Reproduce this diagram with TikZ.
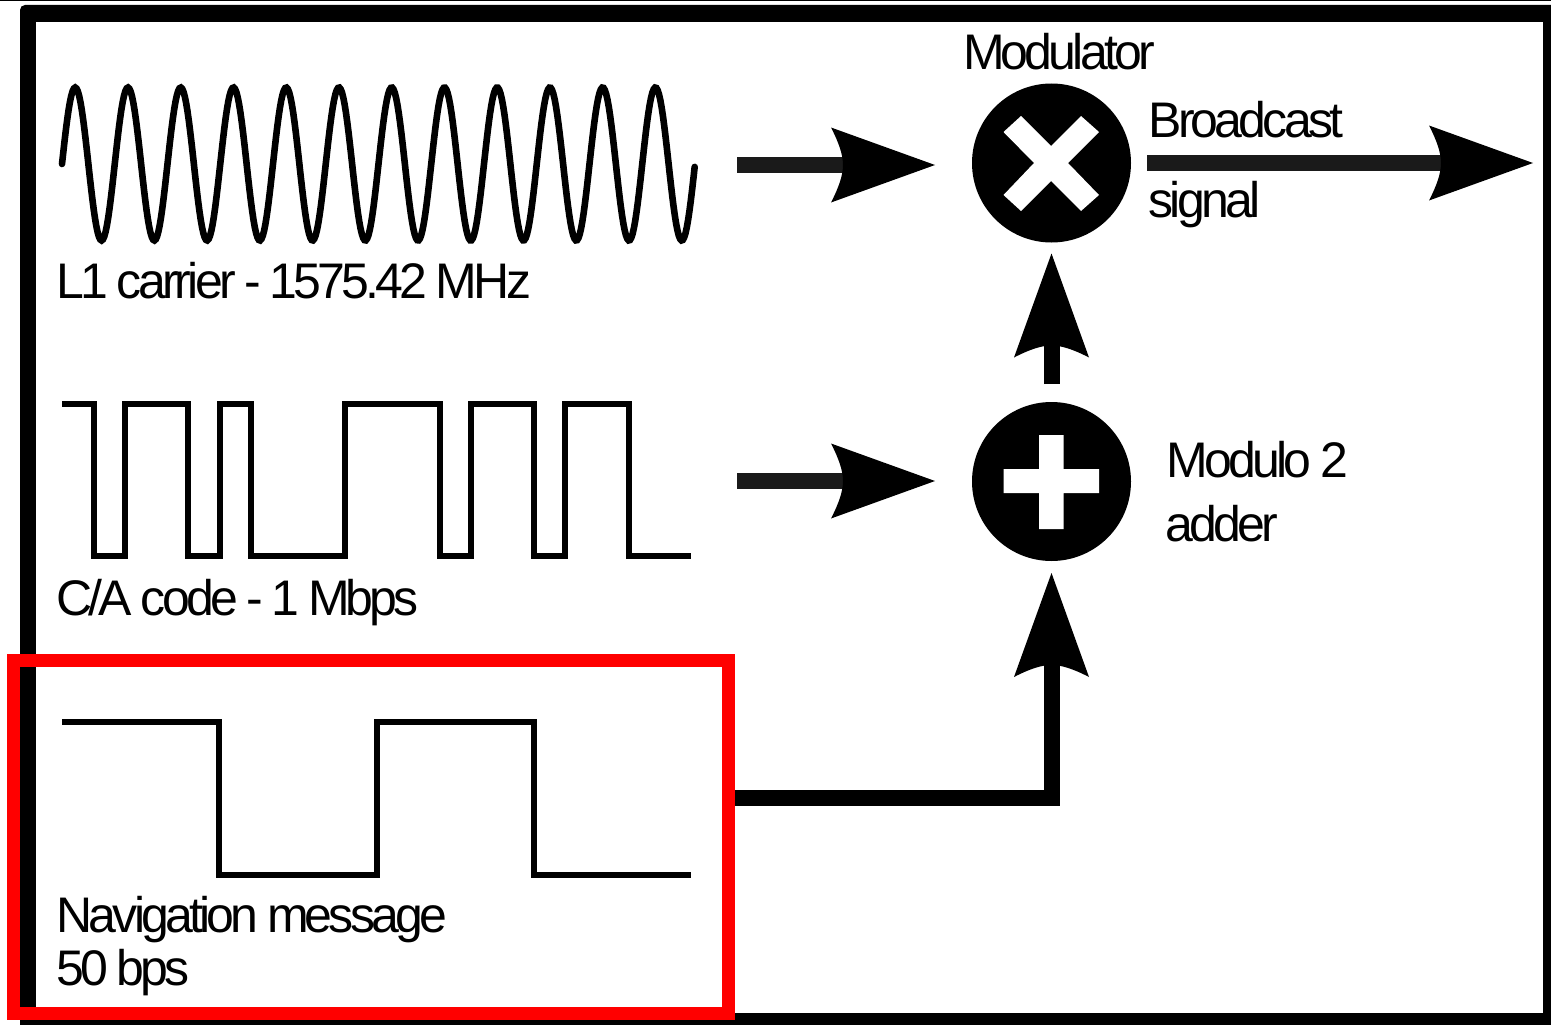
\documentclass[tikz,border=0pt]{standalone}
\usepackage{fontspec}
\setmainfont[LetterSpace=-7.6,WordSpace=0.85]{Liberation Sans}
\usetikzlibrary{arrows.meta,calc}
\pgfdeclarearrow{
  name=DartHead,
  setup code={
    \pgfarrowssettipend{104pt}
    \pgfarrowssetbackend{0pt}
    \pgfarrowssetlineend{16pt}
    \pgfarrowssetvisualbackend{12pt}
  },
  drawing code={
    \pgfsetfillcolor{black}
    \pgfpathmoveto{\pgfqpoint{104pt}{0pt}}
    \pgfpathlineto{\pgfqpoint{0pt}{37.5pt}}
    \pgfpathcurveto{\pgfqpoint{8pt}{22pt}}{\pgfqpoint{12pt}{10pt}}{\pgfqpoint{12pt}{0pt}}
    \pgfpathcurveto{\pgfqpoint{12pt}{-10pt}}{\pgfqpoint{8pt}{-22pt}}{\pgfqpoint{0pt}{-37.5pt}}
    \pgfpathclose
    \pgfusepathqfill
  }
}
\definecolor{shaftgrey}{HTML}{1A1A1A}
\tikzset{
  wave/.style={line width=5.6pt,line join=miter,line cap=butt},
  conn/.style={line width=16pt,draw=shaftgrey,-{DartHead},line join=miter},
  txt/.style={anchor=base west,inner sep=0pt,outer sep=0pt,font=\fontsize{50}{60}\selectfont},
  opnode/.style={circle,fill=black,draw=none,minimum size=159pt,inner sep=0pt,outer sep=0pt},
  glyphwhite/.style={fill=white,draw=none}
}
\begin{document}
\begin{tikzpicture}[x=1pt,y=-1pt]
\useasboundingbox (0,0) rectangle (1551,1025);
\fill[white] (0,0) rectangle (1551,1025);
\fill[black] (0,0) rectangle (1551,1.5);
% frame
\fill[black,rounded corners=5pt] (20,5) -- (1570,5) -- (1570,1040) -- (20,1040) -- cycle;
\fill[white] (36,22) rectangle (1543,1013);
% waves
\draw[line width=6.6pt,line cap=round] plot[domain=0:12,samples=480] ({62+52.75*\x},{164-76.5*sin(360*\x)});
\draw[wave] (62,404) -- (94,404) -- (94,556) -- (125,556) -- (125,404) -- (188,404) -- (188,556) -- (220,556) -- (220,404) -- (251,404) -- (251,556) -- (345,556) -- (345,404) -- (440,404) -- (440,556) -- (471,556) -- (471,404) -- (534,404) -- (534,556) -- (565,556) -- (565,404) -- (629,404) -- (629,556) -- (691,556);
\draw[wave] (62,722) -- (219,722) -- (219,875) -- (377,875) -- (377,722) -- (534,722) -- (534,875) -- (691,875);
% labels
\node[txt] (carrierlabel) at (56.5,298) {L1 carrier - 1575.42 MHz};
\node[txt] (codelabel) at (56.5,615) {C/A code - 1 Mbps};
\node[txt] (navlabel) at (56.5,932) {Navigation message};
\node[txt] (ratelabel) at (56.5,985) {50 bps};
\node[txt] (modlabel) at (963,70) {Modulator};
\node[txt] (bclabel) at (1148.5,137) {Broadcast};
\node[txt] (siglabel) at (1148.5,217) {signal};
\node[txt] (addlabel) at (1166.5,477) {Modulo 2};
\node[txt] (adderlabel) at (1165.5,541) {adder};
% operators
\node[opnode] (mod) at (1051.5,163) {};
\node[opnode] (add) at (1051.5,481.5) {};
\fill[glyphwhite] (1021,116) -- (1051,146) -- (1081,116) -- (1099,132) -- (1068,163) -- (1099,195) -- (1081,211) -- (1051,181) -- (1021,211) -- (1003.5,195) -- (1034,163) -- (1003.5,132) -- cycle;
\fill[glyphwhite] (1039,435) -- (1063.5,435) -- (1063.5,469) -- (1099,469) -- (1099,493) -- (1063.5,493) -- (1063.5,529) -- (1039,529) -- (1039,493) -- (1003.5,493) -- (1003.5,469) -- (1039,469) -- cycle;
% red box
\node[draw=red,line width=13pt,inner sep=0pt,outer sep=6.5pt,minimum width=715pt,minimum height=353pt,anchor=north west] (navbox) at (13.5-6.5,660-6.5) {};
% connectors
\coordinate (carrierout) at (737,165);
\coordinate (codeout) at (737,481);
\coordinate (navout) at (navbox.east |- 0,798);
\coordinate (broadcast) at (1533,163);
\draw[conn,shorten >=37pt] (carrierout) -- (carrierout -| mod.west);
\draw[conn,shorten >=37pt] (codeout) -- (codeout -| add.west);
\draw[conn,draw=black,shorten <=18pt,shorten >=11pt] (add.north) -- (mod.south);
\draw[conn,shorten <=16pt] (mod.east) -- (broadcast);
\draw[conn,shorten >=12pt,draw=black] (navout) -| (add.south);
\end{tikzpicture}
\end{document}
